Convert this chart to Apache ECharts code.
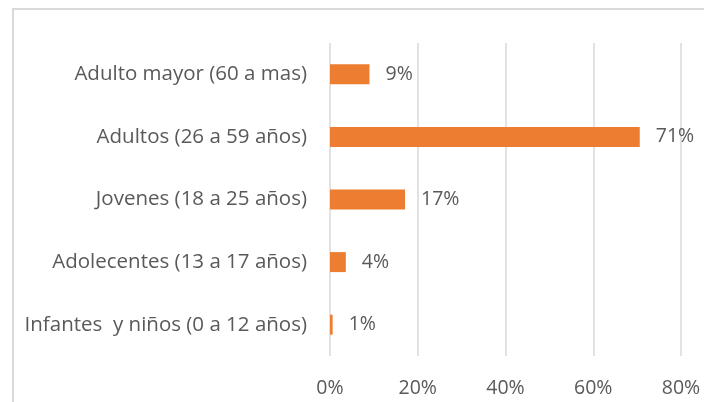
<!DOCTYPE html>
<html>
<head>
<meta charset="utf-8">
<script src="https://cdn.jsdelivr.net/npm/echarts@6/dist/echarts.min.js"></script>
<style>
  html, body { margin: 0; padding: 0; background: #fff; }
  #main { width: 704px; height: 402px; }
</style>
</head>
<body>
<div id="main"></div>
<script>
// categories, bottom to top
const categories = [
  'Infantes  y niños (0 a 12 años)',
  'Adolecentes (13 a 17 años)',
  'Jovenes (18 a 25 años)',
  'Adultos (26 a 59 años)',
  'Adulto mayor (60 a mas)'
];
// shares; labels show them rounded
const shares = [0.006, 0.036, 0.171, 0.706, 0.09];
const xTicks = [0, 0.2, 0.4, 0.6, 0.8];

const textColor = '#595959';
const fontFamily = '"Open Sans", sans-serif';
const fontSize = 19.5;

const pct = v => Math.round(v * 100) + '%';

const chart = echarts.init(document.getElementById('main'));
chart.setOption({
  animation: false,
  backgroundColor: '#fff',
  graphic: [{
    type: 'rect',
    shape: { x: 13, y: 9, width: 760, height: 460 },
    style: { fill: 'none', stroke: '#d9d9d9', lineWidth: 2 },
    silent: true
  }],
  grid: { left: 330, right: 23, top: 43, bottom: 46 },
  xAxis: {
    type: 'value',
    min: xTicks[0],
    max: xTicks[xTicks.length - 1],
    interval: 0.2,
    axisLine: { show: false },
    axisTick: { show: false },
    splitLine: { lineStyle: { color: '#d9d9d9', width: 1.5 } },
    axisLabel: {
      color: textColor, fontFamily: fontFamily, fontSize: fontSize, margin: 22,
      formatter: pct
    }
  },
  yAxis: {
    type: 'category',
    data: categories,
    axisLine: { show: false },
    axisTick: { show: false },
    axisLabel: { color: textColor, fontFamily: fontFamily, fontSize: 20.5, margin: 23 }
  },
  series: [{
    type: 'bar',
    data: shares,
    barWidth: 20,
    itemStyle: { color: '#ED7D31' },
    label: {
      show: true,
      position: 'right',
      distance: 16,
      color: textColor,
      fontFamily: fontFamily,
      fontSize: fontSize,
      formatter: p => pct(p.value)
    }
  }]
});
</script>
</body>
</html>
